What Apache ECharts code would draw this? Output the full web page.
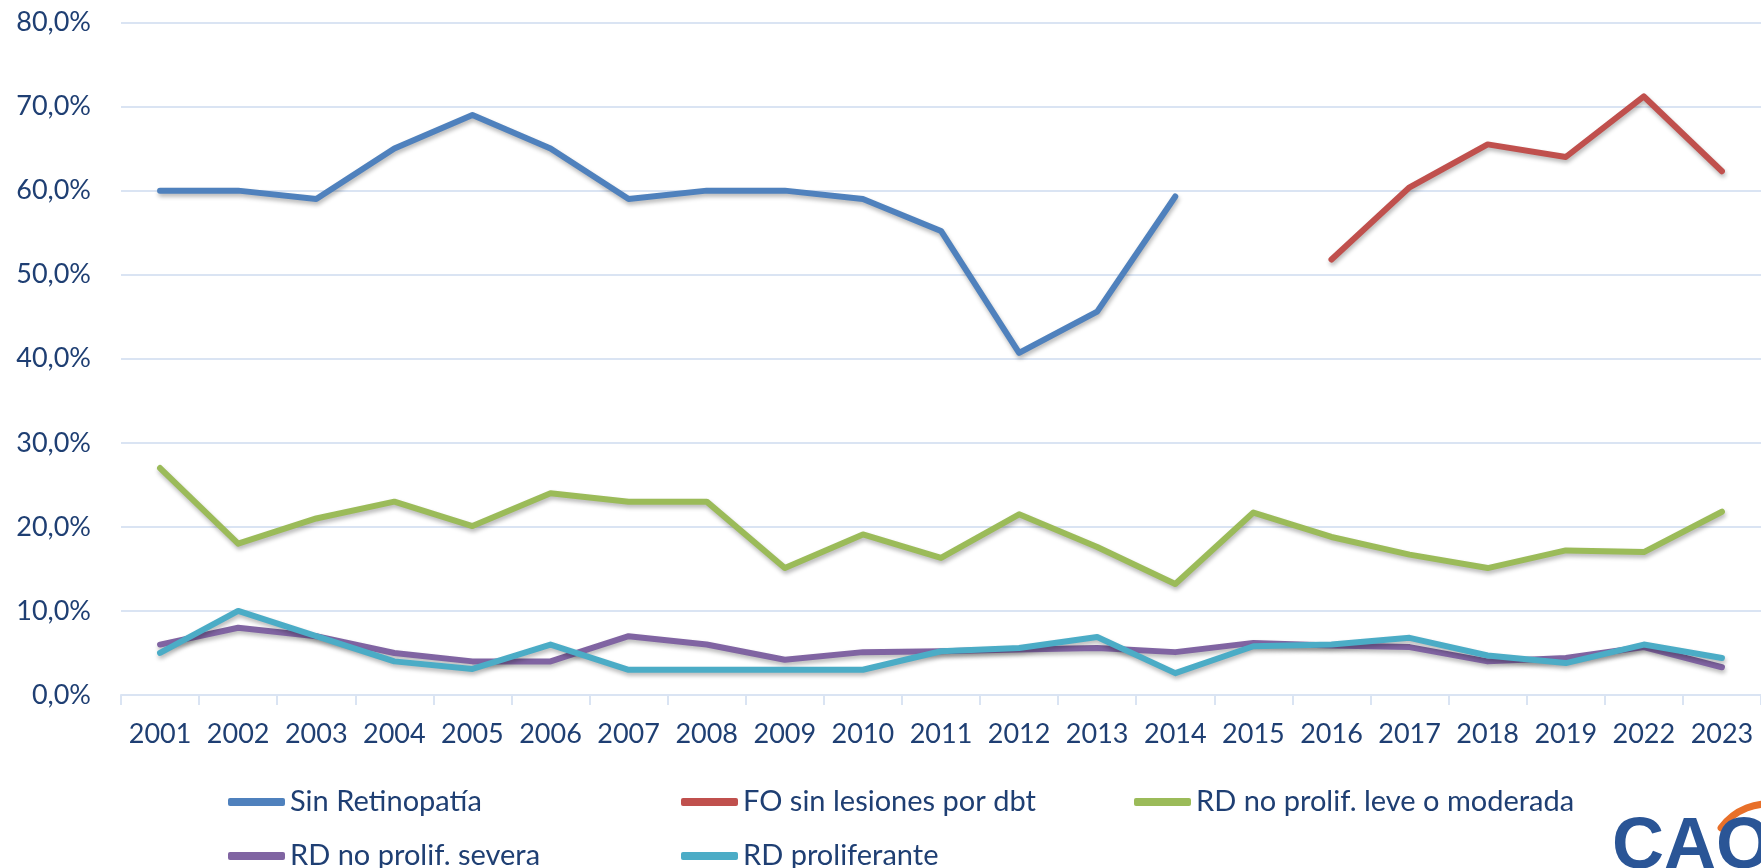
<!DOCTYPE html>
<html>
<head>
<meta charset="utf-8">
<script src="https://cdn.jsdelivr.net/npm/echarts@6/dist/echarts.min.js"></script>
<style>
  html, body { margin: 0; padding: 0; background: #fff; }
  #chart { width: 1761px; height: 868px; }
</style>
</head>
<body>
<div id="chart"></div>
<script>
var years = ['2001', '2002', '2003', '2004', '2005', '2006', '2007', '2008', '2009', '2010',
  '2011', '2012', '2013', '2014', '2015', '2016', '2017', '2018', '2019', '2022', '2023'];

// porcentajes por año (null = sin dato)
var sinRetinopatia = [60, 60, 59, 65, 69, 65, 59, 60, 60, 59, 55.2, 40.7, 45.6, 59.3,
  null, null, null, null, null, null, null];
var foSinLesiones = [null, null, null, null, null, null, null, null, null, null, null, null, null, null,
  null, 51.8, 60.4, 65.5, 64.0, 71.2, 62.3];
var rdLeveModerada = [27, 18, 21, 23, 20.1, 24, 23, 23, 15.1, 19.1, 16.3, 21.5, 17.6, 13.2,
  21.7, 18.8, 16.7, 15.1, 17.2, 17.0, 21.8];
var rdSevera = [6, 8, 7, 5, 4, 4, 7, 6, 4.2, 5.1, 5.2, 5.4, 5.6, 5.1,
  6.2, 5.9, 5.7, 4.0, 4.4, 5.7, 3.3];
var rdProliferante = [5, 10, 7, 4, 3.1, 6, 3, 3, 3, 3, 5.2, 5.6, 6.9, 2.6,
  5.8, 6.0, 6.8, 4.7, 3.8, 6.0, 4.4];

var yTicks = [0, 10, 20, 30, 40, 50, 60, 70, 80];

var txtColor = '#1F3F73';
var gridColor = '#DAE4F3';
var font = 'Lato';

var myChart = echarts.init(document.getElementById('chart'));

function mkLine(name, data, color) {
  return {
    name: name,
    type: 'line',
    data: data,
    symbol: 'none',
    connectNulls: false,
    animation: false,
    lineStyle: {
      color: color,
      width: 6,
      cap: 'round',
      join: 'round',
      shadowColor: 'rgba(0,0,0,0.28)',
      shadowBlur: 4,
      shadowOffsetX: 1,
      shadowOffsetY: 3
    },
    itemStyle: { color: color }
  };
}

var legendBase = {
  orient: 'vertical',
  top: 782,
  height: 140,
  itemWidth: 57,
  itemHeight: 8,
  itemGap: 24,
  icon: 'roundRect',
  selectedMode: false,
  textStyle: { color: txtColor, fontSize: 29, fontFamily: font, lineHeight: 30 }
};

var option = {
  backgroundColor: '#fff',
  animation: false,
  grid: { left: 121, right: -4, top: 22.5, bottom: 173, containLabel: false },
  legend: [
    Object.assign({}, legendBase, { left: 223, data: ['Sin Retinopatía', 'RD no prolif. severa'] }),
    Object.assign({}, legendBase, { left: 676, data: ['FO sin lesiones por dbt', 'RD proliferante'] }),
    Object.assign({}, legendBase, { left: 1129, data: ['RD no prolif. leve o moderada'] })
  ],
  xAxis: {
    type: 'category',
    data: years,
    boundaryGap: true,
    axisLine: { lineStyle: { color: gridColor, width: 2 } },
    axisTick: { show: true, length: 10, lineStyle: { color: gridColor, width: 2 } },
    axisLabel: { color: txtColor, fontSize: 27, fontFamily: font, margin: 26, interval: 0 }
  },
  yAxis: {
    type: 'value',
    min: yTicks[0],
    max: yTicks[yTicks.length - 1],
    interval: 10,
    axisLine: { show: false },
    axisTick: { show: false },
    splitLine: { lineStyle: { color: gridColor, width: 2 } },
    axisLabel: {
      color: txtColor, fontSize: 27, fontFamily: font, margin: 30,
      formatter: function (v) { return v.toFixed(1).replace('.', ',') + '%'; }
    }
  },
  graphic: [
    {
      type: 'arc',
      shape: { cx: 1768, cy: 862, r: 58, startAngle: Math.PI * 1.2, endAngle: Math.PI * 1.56 },
      style: { stroke: '#E8702A', lineWidth: 7, fill: null, lineCap: 'round' }
    },
    {
      type: 'text',
      left: 1612,
      top: 812,
      style: { text: 'CAO', font: 'bold 72px "Liberation Sans"', fill: '#2A5596' }
    }
  ],
  series: [
    mkLine('Sin Retinopatía', sinRetinopatia, '#4F81BD'),
    mkLine('FO sin lesiones por dbt', foSinLesiones, '#C0504D'),
    mkLine('RD no prolif. leve o moderada', rdLeveModerada, '#9BBB59'),
    mkLine('RD no prolif. severa', rdSevera, '#8064A2'),
    mkLine('RD proliferante', rdProliferante, '#4BACC6')
  ]
};

myChart.setOption(option);
</script>
</body>
</html>
